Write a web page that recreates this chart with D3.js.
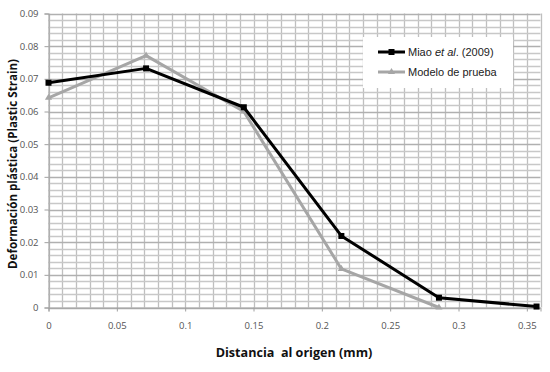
<!DOCTYPE html>
<html>
<head>
<meta charset="utf-8">
<script src="https://cdn.jsdelivr.net/npm/d3@7"></script>
<style>
  body { margin: 0; background: #fff; }
  svg { display: block; }
</style>
</head>
<body>
<script>
// data
let distancia = [0, 0.0714, 0.1429, 0.2143, 0.2857, 0.3571];
let miao = [0.0688, 0.0732, 0.0613, 0.0219, 0.0030, 0.0003];
let modelo = [0.0642, 0.0771, 0.0600, 0.0118, 0.0000];
let xTicks = [0, 0.05, 0.1, 0.15, 0.2, 0.25, 0.3, 0.35];
let yTicks = [0, 0.01, 0.02, 0.03, 0.04, 0.05, 0.06, 0.07, 0.08, 0.09];
let seriesNames = ["Miao et al. (2009)", "Modelo de prueba"];

let width = 550;
let height = 372;

let svg = d3.select('body').append('svg')
    .attr('width', width)
    .attr('height', height);

// scales
let xScale = d3.scaleLinear()
    .domain([0, 0.36])
    .range([48.5, 540.5]);

let yScale = d3.scaleLinear()
    .domain([0, 0.09])
    .range([307.5, 13.5]);

// minor grid: 0.01 on x, 0.002 on y
let xMinor = d3.range(0, 0.3601, 0.01);
let yMinor = d3.range(0, 0.0901, 0.002);

let grid = svg.append('g').attr('id', 'grid');

grid.selectAll('.vline')
    .data(xMinor)
    .enter()
    .append('line')
      .attr('x1', d => Math.round(xScale(d)) + 0.5)
      .attr('x2', d => Math.round(xScale(d)) + 0.5)
      .attr('y1', yScale(0.09))
      .attr('y2', yScale(0))
      .attr('stroke', '#bfbfbf')
      .attr('stroke-width', 1.3);

grid.selectAll('.hline')
    .data(yMinor)
    .enter()
    .append('line')
      .attr('x1', xScale(0))
      .attr('x2', xScale(0.36))
      .attr('y1', d => Math.round(yScale(d)) + 0.5)
      .attr('y2', d => Math.round(yScale(d)) + 0.5)
      .attr('stroke', d => (Math.round(d * 1000) % 10 === 0) ? '#b0b0b0' : '#c8c8c8')
      .attr('stroke-width', 1.3);

// axes
let xAxis = d3.axisBottom(xScale)
    .tickValues(xTicks)
    .tickSize(4)
    .tickPadding(11)
    .tickFormat(d3.format('~g'));

let yAxis = d3.axisLeft(yScale)
    .tickValues(yTicks)
    .tickSize(4)
    .tickPadding(6)
    .tickFormat(d3.format('~g'));

svg.append('g')
    .attr('id', 'x-axis')
    .attr('transform', 'translate(0,' + yScale(0) + ')')
    .call(xAxis);

svg.append('g')
    .attr('id', 'y-axis')
    .attr('transform', 'translate(' + xScale(0) + ',0)')
    .call(yAxis);

svg.selectAll('#x-axis path, #y-axis path').attr('stroke', '#a0a0a0');
svg.selectAll('#x-axis line, #y-axis line').attr('stroke', '#a0a0a0');
svg.selectAll('#x-axis text, #y-axis text')
    .attr('fill', '#555')
    .style('font-family', 'Open Sans, sans-serif')
    .style('font-size', '9.5px');

// series lines
let line = d3.line()
    .x(d => xScale(d[0]))
    .y(d => yScale(d[1]));

let miaoPts = miao.map((v, i) => [distancia[i], v]);
let modeloPts = modelo.map((v, i) => [distancia[i], v]);

svg.append('path')
    .datum(modeloPts)
    .attr('d', line)
    .attr('fill', 'none')
    .attr('stroke', '#a6a6a6')
    .attr('stroke-width', 3)
    .attr('stroke-linejoin', 'round');

svg.selectAll('.tri')
    .data(modeloPts)
    .enter()
    .append('path')
      .attr('d', d3.symbol().type(d3.symbolTriangle).size(22))
      .attr('transform', d => 'translate(' + xScale(d[0]) + ',' + yScale(d[1]) + ')')
      .attr('fill', '#a6a6a6');

svg.append('path')
    .datum(miaoPts)
    .attr('d', line)
    .attr('fill', 'none')
    .attr('stroke', '#000')
    .attr('stroke-width', 3)
    .attr('stroke-linejoin', 'round');

svg.selectAll('.sq')
    .data(miaoPts)
    .enter()
    .append('rect')
      .attr('x', d => xScale(d[0]) - 3)
      .attr('y', d => yScale(d[1]) - 3)
      .attr('width', 6)
      .attr('height', 6)
      .attr('fill', '#000');

// axis titles
svg.append('text')
    .attr('x', 294)
    .attr('y', 357)
    .style('text-anchor', 'middle')
    .style('font-family', 'Open Sans, sans-serif')
    .style('font-weight', 'bold')
    .style('font-size', '12.6px')
    .attr('fill', '#111')
    .attr('xml:space', 'preserve')
    .text('Distancia  al origen (mm)');

svg.append('text')
    .style('text-anchor', 'middle')
    .attr('transform', 'translate(17,164) rotate(-90)')
    .style('font-family', 'Open Sans, sans-serif')
    .style('font-weight', 'bold')
    .style('font-size', '11.6px')
    .attr('fill', '#111')
    .text('Deformación plástica (Plastic Strain)');

// legend
let legend = svg.append('g').attr('id', 'legend');

legend.append('rect')
    .attr('x', 363)
    .attr('y', 37)
    .attr('width', 150)
    .attr('height', 51)
    .attr('fill', '#fff');

let legendColors = ['#000', '#a6a6a6'];
let legendY = [52, 72];

seriesNames.forEach(function(name, i) {
    legend.append('line')
        .attr('x1', 378)
        .attr('x2', 405)
        .attr('y1', legendY[i])
        .attr('y2', legendY[i])
        .attr('stroke', legendColors[i])
        .attr('stroke-width', 3);
    if (i === 0) {
        legend.append('rect')
            .attr('x', 388.5)
            .attr('y', legendY[i] - 3)
            .attr('width', 6)
            .attr('height', 6)
            .attr('fill', '#000');
    } else {
        legend.append('path')
            .attr('d', d3.symbol().type(d3.symbolTriangle).size(22))
            .attr('transform', 'translate(391.5,' + legendY[i] + ')')
            .attr('fill', '#a6a6a6');
    }
    let t = legend.append('text')
        .attr('x', 408)
        .attr('y', legendY[i] + 4)
        .style('font-family', 'Liberation Sans, Arial, sans-serif')
        .style('font-size', '11px')
        .attr('fill', '#222');
    if (i === 0) {
        t.append('tspan').text('Miao ');
        t.append('tspan').style('font-style', 'italic').text('et al');
        t.append('tspan').text('. (2009)');
    } else {
        t.text(name);
    }
});
</script>
</body>
</html>
